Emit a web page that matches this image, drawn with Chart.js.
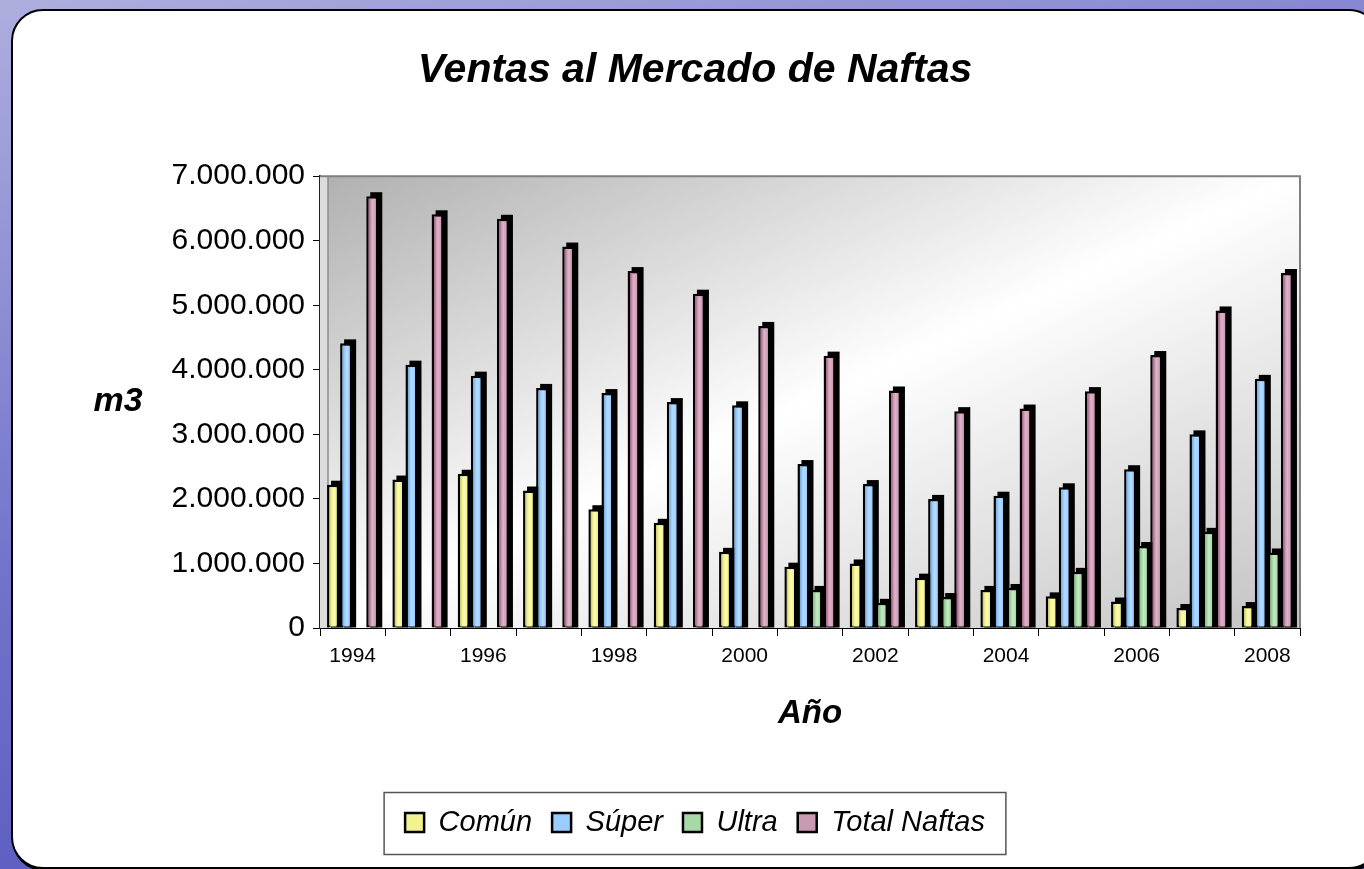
<!DOCTYPE html>
<html>
<head>
<meta charset="utf-8">
<title>Ventas al Mercado de Naftas</title>
<script src="https://cdn.jsdelivr.net/npm/chart.js@4.4.1/dist/chart.umd.min.js"></script>
<style>
  html, body { margin: 0; padding: 0; }
  body {
    width: 1364px; height: 869px; overflow: hidden; position: relative;
    background: linear-gradient(165deg, #aeaede 0%, #7474cc 45%, #4848b8 100%);
  }
  #card {
    position: absolute; left: 11px; top: 9px; width: 1366px; height: 856px;
    background: #fff; border: 2px solid #000; border-radius: 32px;
    box-shadow: 1px 2px 0 #000;
  }
  #mainChart { position: absolute; left: 0; top: 0; }
</style>
</head>
<body>
<div id="card"></div>
<canvas id="mainChart" width="1364" height="869"></canvas>
<script>
  // values (m3)
  const years = ['1994', '1995', '1996', '1997', '1998', '1999', '2000', '2001',
                 '2002', '2003', '2004', '2005', '2006', '2007', '2008'];
  const comun = [2220000, 2300000, 2390000, 2130000, 1840000, 1630000, 1180000, 950000,
                 1000000, 780000, 590000, 490000, 410000, 310000, 340000];
  const superN = [4410000, 4080000, 3910000, 3720000, 3640000, 3500000, 3450000, 2540000,
                  2230000, 2000000, 2050000, 2180000, 2460000, 3000000, 3860000];
  const ultra = [null, null, null, null, null, null, null, 590000,
                 390000, 480000, 620000, 870000, 1270000, 1490000, 1170000];
  const total = [6690000, 6410000, 6340000, 5910000, 5530000, 5180000, 4680000, 4220000,
                 3680000, 3360000, 3400000, 3670000, 4230000, 4920000, 5500000];
  const yTicks = [0, 1000000, 2000000, 3000000, 4000000, 5000000, 6000000, 7000000];

  Chart.defaults.font.family = '"Liberation Sans", Arial, sans-serif';
  Chart.defaults.color = '#000';

  // colours: [face, dark edge, light stripe]
  const shades = {
    'Común':        ['#f2f290', '#c4c46a', '#fafab4'],
    'Súper':        ['#99ccff', '#7aa8da', '#b4dcff'],
    'Ultra':        ['#a8d8a8', '#88b888', '#c4ecc4'],
    'Total Naftas': ['#cc99b3', '#a05880', '#dcb4c8']
  };

  function fmt(v) {
    return String(v).replace(/\B(?=(\d{3})+(?!\d))/g, '.');
  }

  const depth = 4;

  const plotLook = {
    id: 'plotLook',
    beforeDatasetsDraw(chart) {
      const { ctx, chartArea: a } = chart;
      const w = a.right - a.left, h = a.bottom - a.top;
      const cx = (a.left + a.right) / 2, cy = (a.top + a.bottom) / 2;
      const n2 = w * w + h * h;
      // isolines run along the bottom-left / top-right diagonal
      const dx = w * h * h / n2, dy = w * w * h / n2;
      ctx.save();
      const g = ctx.createLinearGradient(cx - dx, cy - dy, cx + dx, cy + dy);
      g.addColorStop(0, '#b0b0b0');
      g.addColorStop(0.5, '#ffffff');
      g.addColorStop(1, '#c2c2c2');
      ctx.fillStyle = g;
      ctx.fillRect(a.left, a.top, w, h);
      // wall edge
      ctx.fillStyle = '#dcdcdc';
      ctx.fillRect(a.left, a.top, 8, h);
      ctx.strokeStyle = '#8c8c8c';
      ctx.lineWidth = 1.5;
      ctx.beginPath();
      ctx.moveTo(a.left + 8, a.top);
      ctx.lineTo(a.left + 8, a.bottom);
      ctx.stroke();
      ctx.restore();
    },
    afterDraw(chart) {
      const { ctx, chartArea: a } = chart;
      ctx.save();
      ctx.strokeStyle = '#808080';
      ctx.lineWidth = 2;
      ctx.beginPath();
      ctx.moveTo(a.left, a.top);
      ctx.lineTo(a.right, a.top);
      ctx.lineTo(a.right, a.bottom);
      ctx.stroke();
      // y title, written horizontally
      ctx.fillStyle = '#000';
      ctx.font = 'italic bold 34px "Liberation Sans", Arial, sans-serif';
      ctx.textAlign = 'center';
      ctx.textBaseline = 'middle';
      ctx.fillText('m3', a.left - 202, (a.top + a.bottom) / 2);
      // legend frame
      const boxes = chart.legend.legendHitBoxes;
      if (boxes && boxes.length) {
        const first = boxes[0], last = boxes[boxes.length - 1];
        const mid = first.top + first.height / 2;
        ctx.strokeStyle = '#555';
        ctx.lineWidth = 1.5;
        ctx.strokeRect(first.left - 21, mid - 30, last.left + last.width - first.left + 42, 62);
      }
      ctx.restore();
    }
  };

  // black 3D side behind every bar, then a shaded face on top of it
  const barDepth = {
    id: 'barDepth',
    beforeDatasetsDraw(chart) {
      const ctx = chart.ctx;
      ctx.save();
      ctx.fillStyle = '#000';
      chart.data.datasets.forEach((ds, i) => {
        chart.getDatasetMeta(i).data.forEach((bar, j) => {
          if (ds.data[j] == null) return;
          const w = bar.width;
          ctx.fillRect(bar.x - w / 2 + depth, bar.y - depth, w, bar.base - bar.y + depth);
        });
      });
      ctx.restore();
    },
    afterDatasetsDraw(chart) {
      const ctx = chart.ctx;
      ctx.save();
      chart.data.datasets.forEach((ds, i) => {
        const c = shades[ds.label];
        chart.getDatasetMeta(i).data.forEach((bar, j) => {
          if (ds.data[j] == null) return;
          const l = bar.x - bar.width / 2 + 2.5, r = bar.x + bar.width / 2 - 2.5;
          if (r <= l) return;
          const g = ctx.createLinearGradient(l, 0, r, 0);
          g.addColorStop(0, c[1]);
          g.addColorStop(0.3, c[0]);
          g.addColorStop(0.55, c[2]);
          g.addColorStop(1, c[0]);
          ctx.fillStyle = g;
          ctx.fillRect(l, bar.y + 2.5, r - l, bar.base - bar.y - 3.5);
        });
      });
      ctx.restore();
    }
  };

  function makeSet(label, data) {
    return {
      label,
      data,
      backgroundColor: shades[label][0],
      borderColor: '#000',
      borderWidth: 2.5,
      borderSkipped: false,
      categoryPercentage: 0.8,
      barPercentage: 0.92
    };
  }

  const ctx = document.getElementById('mainChart').getContext('2d');
  const mainChart = new Chart(ctx, {
    type: 'bar',
    data: {
      labels: years,
      datasets: [
        makeSet('Común', comun),
        makeSet('Súper', superN),
        makeSet('Ultra', ultra),
        makeSet('Total Naftas', total)
      ]
    },
    options: {
      responsive: false,
      animation: false,
      layout: { padding: { left: 90, right: 64, top: 0, bottom: 22 } },
      plugins: {
        title: {
          display: true,
          text: 'Ventas al Mercado de Naftas',
          font: { size: 41, weight: 'bold', style: 'italic' },
          padding: { top: 46, bottom: 81 }
        },
        legend: {
          position: 'bottom',
          labels: {
            font: { size: 29, style: 'italic' },
            boxWidth: 19,
            boxHeight: 19,
            padding: 20
          }
        },
        tooltip: { enabled: false }
      },
      scales: {
        x: {
          grid: { display: true, drawOnChartArea: false, drawTicks: true, tickLength: 8, color: '#000', offset: true },
          border: { color: '#000', width: 2 },
          ticks: {
            autoSkip: false,
            maxRotation: 0,
            padding: 8,
            font: { size: 21 },
            callback: (v, i) => (i % 2 === 0 ? years[i] : '')
          },
          title: {
            display: true,
            text: 'Año',
            font: { size: 33, weight: 'bold', style: 'italic' },
            padding: { top: 0, bottom: 54 }
          },
          afterFit: (scale) => { scale.height = 160; }
        },
        y: {
          min: 0,
          max: 7000000,
          afterBuildTicks: (scale) => { scale.ticks = yTicks.map(v => ({ value: v })); },
          grid: { color: '#000', lineWidth: 1, tickLength: 7 },
          border: { color: '#222', width: 2 },
          ticks: {
            padding: 8,
            font: { size: 30 },
            callback: (v) => fmt(v)
          },
          afterFit: (scale) => { scale.width = 230; }
        }
      }
    },
    plugins: [plotLook, barDepth]
  });
</script>
</body>
</html>
